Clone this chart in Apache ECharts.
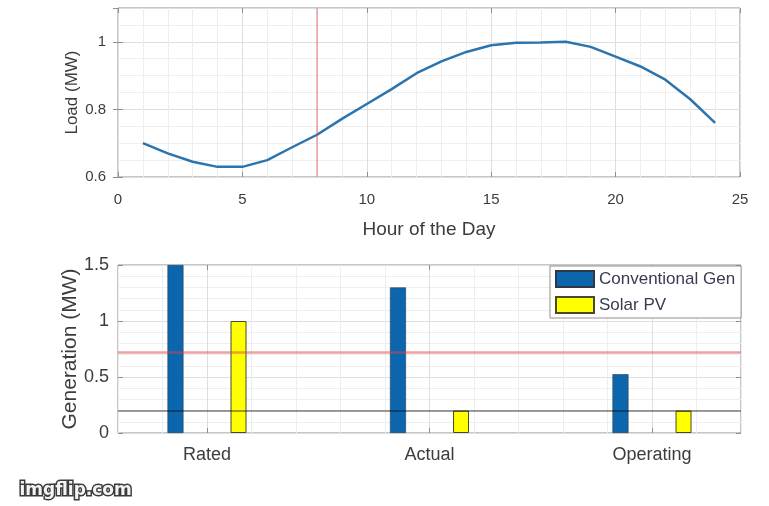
<!DOCTYPE html>
<html>
<head>
<meta charset="utf-8">
<script src="https://cdn.jsdelivr.net/npm/echarts@6/dist/echarts.min.js"></script>
<style>
  html, body { margin: 0; padding: 0; background: #ffffff; }
  #chart { width: 769px; height: 506px; }
</style>
</head>
<body>
<div id="chart"></div>
<script>
// Hourly load profile (MW)
const hours = [1, 2, 3, 4, 5, 6, 7, 8, 9, 10, 11, 12, 13, 14, 15, 16, 17, 18, 19, 20, 21, 22, 23, 24];
const loadMW = [0.70, 0.67, 0.645, 0.63, 0.63, 0.65, 0.688, 0.725, 0.772, 0.816, 0.86, 0.907,
                0.942, 0.97, 0.99, 0.997, 0.998, 1.0, 0.985, 0.956, 0.927, 0.888, 0.83, 0.76];
// Hour currently highlighted on the load curve
const markedHour = 8;

// Tick values of the load plot
const hourTicks = [0, 5, 10, 15, 20, 25];
const loadTicks = [0.6, 0.8, 1];
const loadMax = 1.1;

// Generation mix per operating state
const genCategories = ['Rated', 'Actual', 'Operating'];
const genPositions = [1, 2, 3];
const conventionalGen = [1.5, 1.3, 0.525];
const solarPV = [1.0, 0.2, 0.2];
const genTicks = [0, 0.5, 1, 1.5];

const FONT = '"Liberation Sans", Arial, sans-serif';
const TEXT = '#3c3c3c';
const BORDER = '#8f8f8f';
const MAJOR = '#dedede';
const MINOR = '#eeeeee';
const RED = 'rgba(222, 70, 70, 0.5)';
const GREY = 'rgba(0, 0, 0, 0.38)';

const chart = echarts.init(document.getElementById('chart'), null, { renderer: 'canvas' });

const stepOf = arr => arr[1] - arr[0];
const hiddenLabel = { show: false };
const inTick = { show: true, inside: true, length: 5, lineStyle: { color: BORDER } };

const option = {
  animation: false,
  backgroundColor: '#ffffff',
  textStyle: { fontFamily: FONT },
  grid: [
    { left: 118, right: 29, top: 8, height: 169, show: true, borderColor: BORDER, borderWidth: 1, backgroundColor: '#ffffff' },
    { left: 118, right: 28, top: 265, height: 168, show: true, borderColor: BORDER, borderWidth: 1, backgroundColor: '#ffffff' }
  ],
  xAxis: [
    {
      gridIndex: 0, type: 'value', position: 'bottom',
      min: hourTicks[0], max: hourTicks[hourTicks.length - 1], interval: stepOf(hourTicks),
      name: 'Hour of the Day', nameLocation: 'middle', nameGap: 43, nameMoveOverlap: false,
      nameTextStyle: { fontSize: 19, color: TEXT, fontFamily: FONT },
      axisLine: { show: false },
      axisTick: inTick,
      axisLabel: { fontSize: 15, color: TEXT, margin: 15, fontFamily: FONT },
      splitLine: { show: true, lineStyle: { color: MAJOR, width: 1 } },
      minorTick: { show: false, splitNumber: 5 },
      minorSplitLine: { show: true, lineStyle: { color: MINOR, width: 1 } }
    },
    {
      gridIndex: 0, type: 'value', position: 'top',
      min: hourTicks[0], max: hourTicks[hourTicks.length - 1], interval: stepOf(hourTicks),
      axisLine: { show: false }, axisTick: inTick, axisLabel: hiddenLabel, splitLine: { show: false }
    },
    {
      // fine vertical grid of the generation plot
      gridIndex: 1, type: 'value', position: 'top', min: 0.6, max: 3.4, interval: 0.2,
      axisLine: { show: false }, axisTick: { show: false }, axisLabel: hiddenLabel,
      splitLine: { show: true, lineStyle: { color: MINOR, width: 1 } }
    },
    {
      gridIndex: 1, type: 'value', position: 'bottom', min: 0.6, max: 3.4,
      axisLine: { show: false },
      axisTick: Object.assign({ customValues: genPositions }, inTick),
      axisLabel: {
        customValues: genPositions, fontSize: 18, color: TEXT, margin: 13, fontFamily: FONT,
        formatter: v => genCategories[genPositions.indexOf(Math.round(v))] || ''
      },
      splitLine: { show: true, lineStyle: { color: MAJOR, width: 1 } }
    },
    {
      gridIndex: 1, type: 'value', position: 'top', min: 0.6, max: 3.4,
      axisLine: { show: false },
      axisTick: Object.assign({ customValues: genPositions }, inTick),
      axisLabel: Object.assign({ customValues: genPositions }, hiddenLabel),
      splitLine: { show: false }
    }
  ],
  yAxis: [
    {
      gridIndex: 0, type: 'value', position: 'left',
      min: loadTicks[0], max: loadMax, interval: stepOf(loadTicks),
      name: 'Load (MW)', nameLocation: 'middle', nameGap: 37, nameRotate: 90, nameMoveOverlap: false,
      nameTextStyle: { fontSize: 17, color: TEXT, fontFamily: FONT },
      axisLine: { show: false },
      axisTick: inTick,
      axisLabel: { fontSize: 15, color: TEXT, margin: 12, showMaxLabel: false, fontFamily: FONT },
      splitLine: { show: true, lineStyle: { color: MAJOR, width: 1 } },
      minorTick: { show: false, splitNumber: 4 },
      minorSplitLine: { show: true, lineStyle: { color: MINOR, width: 1 } }
    },
    {
      gridIndex: 0, type: 'value', position: 'right',
      min: loadTicks[0], max: loadMax, interval: stepOf(loadTicks),
      axisLine: { show: false }, axisTick: inTick, axisLabel: hiddenLabel, splitLine: { show: false }
    },
    {
      gridIndex: 1, type: 'value', position: 'left',
      min: genTicks[0], max: genTicks[genTicks.length - 1], interval: stepOf(genTicks),
      name: 'Generation (MW)', nameLocation: 'middle', nameGap: 37, nameRotate: 90, nameMoveOverlap: false,
      nameTextStyle: { fontSize: 21, color: TEXT, fontFamily: FONT },
      axisLine: { show: false },
      axisTick: inTick,
      axisLabel: { fontSize: 18, color: TEXT, margin: 9, fontFamily: FONT },
      splitLine: { show: true, lineStyle: { color: MAJOR, width: 1 } },
      minorTick: { show: false, splitNumber: 5 },
      minorSplitLine: { show: true, lineStyle: { color: MINOR, width: 1 } }
    },
    {
      gridIndex: 1, type: 'value', position: 'right',
      min: genTicks[0], max: genTicks[genTicks.length - 1], interval: stepOf(genTicks),
      axisLine: { show: false }, axisTick: inTick, axisLabel: hiddenLabel, splitLine: { show: false }
    }
  ],
  legend: {
    orient: 'vertical', left: 550, top: 266,
    data: ['Conventional Gen', 'Solar PV'],
    icon: 'rect', itemWidth: 38, itemHeight: 16, itemGap: 8,
    padding: [4, 6, 4, 5],
    borderColor: BORDER, borderWidth: 1, borderRadius: 0, backgroundColor: '#ffffff',
    textStyle: { fontSize: 17, color: '#3a3a50', fontFamily: FONT },
    z: 20
  },
  series: [
    {
      name: 'Load', type: 'line', xAxisIndex: 0, yAxisIndex: 0,
      data: hours.map((h, i) => [h, loadMW[i]]),
      showSymbol: false, smooth: false,
      lineStyle: { color: '#2b74ad', width: 2.5 },
      markLine: {
        silent: true, symbol: 'none', label: { show: false },
        lineStyle: { color: RED, width: 1.5, type: 'solid' },
        data: [{ xAxis: markedHour }]
      }
    },
    {
      name: 'Conventional Gen', type: 'bar', xAxisIndex: 3, yAxisIndex: 2,
      data: genPositions.map((p, i) => [p, conventionalGen[i]]),
      barWidth: 16, barGap: '294%',
      itemStyle: { color: '#0b66ae', borderColor: '#2a3a4a', borderWidth: 0.6 },
      markLine: {
        silent: true, symbol: 'none', label: { show: false },
        data: [
          { yAxis: loadMW[hours.indexOf(markedHour)], lineStyle: { color: RED, width: 2.5, type: 'solid' } },
          { yAxis: solarPV[1], lineStyle: { color: GREY, width: 2, type: 'solid' } }
        ]
      }
    },
    {
      name: 'Solar PV', type: 'bar', xAxisIndex: 3, yAxisIndex: 2,
      data: genPositions.map((p, i) => [p, solarPV[i]]),
      barWidth: 16, barGap: '294%',
      itemStyle: { color: '#ffff00', borderColor: '#4a4a2a', borderWidth: 1 }
    }
  ],
  graphic: [
    {
      type: 'text', left: 18, top: 481, z: 50,
      style: {
        text: 'imgflip.com',
        font: 'bold 17px "DejaVu Sans", sans-serif',
        fill: '#f4f4f4', stroke: '#3a3a3a', lineWidth: 3, strokeFirst: true
      }
    }
  ]
};

chart.setOption(option);
</script>
</body>
</html>
